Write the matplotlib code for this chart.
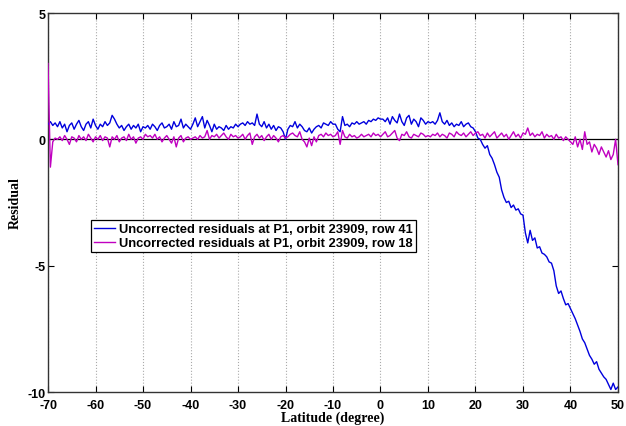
import numpy as np
import matplotlib
matplotlib.use("Agg")
import matplotlib.pyplot as plt

plt.rcParams["axes.unicode_minus"] = False

# Latitude grid (degree), 0.5 deg steps from -70 to 50
lat = np.arange(-70.0, 50.001, 0.5)

# Uncorrected residuals at P1, orbit 23909, row 41 (blue)
row41 = [
    # -70 .. -60
    0.6, 0.7, 0.55, 0.65, 0.5, 0.7, 0.45, 0.6, 0.3, 0.55, 0.65, 0.4, 0.6, 0.75, 0.5, 0.35, 0.6, 0.7, 0.45, 0.8, 0.55,
    # -59.5 .. -50
    0.4, 0.6, 0.5, 0.7, 0.55, 0.65, 0.95, 0.8, 0.6, 0.45, 0.55, 0.35, 0.5, 0.6, 0.4, 0.55, 0.45, 0.6, 0.3, 0.5,
    # -49.5 .. -40
    0.45, 0.55, 0.4, 0.6, 0.5, 0.35, 0.55, 0.65, 0.45, 0.5, 0.6, 0.4, 0.7, 0.5, 0.55, 0.8, 0.45, 0.6, 0.5, 0.4,
    # -39.5 .. -30
    0.6, 0.85, 0.5, 0.7, 0.9, 0.45, 0.75, 0.55, 0.3, 0.6, 0.4, 0.5, 0.45, 0.35, 0.55, 0.4, 0.5, 0.45, 0.6, 0.5,
    # -29.5 .. -20
    0.6, 0.65, 0.55, 0.7, 0.6, 0.65, 0.55, 1.0, 0.6, 0.5, 0.7, 0.45, 0.6, 0.4, 0.55, 0.35, 0.5, 0.45, 0.3, 0.0,
    # -19.5 .. -10
    0.4, 0.55, 0.5, 0.7, 0.45, 0.6, 0.5, 0.35, 0.3, 0.45, 0.25, 0.4, 0.5, 0.55, 0.45, 0.65, 0.6, 0.55, 0.7, 0.6,
    # -9.5 .. 0
    0.6, 0.4, 0.3, 0.9, 0.55, 0.6, 0.5, 0.65, 0.6, 0.7, 0.6, 0.65, 0.7, 0.6, 0.75, 0.7, 0.8, 0.75, 0.85, 0.8,
    # 0.5 .. 10
    0.8, 0.7, 0.85, 0.6, 0.9, 0.75, 0.65, 1.0, 0.7, 0.55, 0.85, 0.95, 0.6, 0.8, 0.7, 0.5, 0.85, 0.75, 0.6, 0.7,
    # 10.5 .. 20
    0.65, 0.7, 0.6, 0.75, 1.05, 0.7, 0.6, 0.75, 0.55, 0.65, 0.5, 0.6, 0.55, 0.7, 0.5, 0.6, 0.65, 0.5, 0.45, 0.3,
    # 20.5 .. 30
    0.05, 0.0, -0.2, -0.35, -0.25, -0.6, -0.75, -1.0, -1.3, -1.5, -2.0, -2.3, -2.5, -2.45, -2.7, -2.6, -2.8, -2.75, -2.95, -3.0,
    # 30.5 .. 40
    -3.7, -4.1, -3.6, -4.0, -3.9, -4.3, -4.25, -4.5, -4.55, -4.65, -4.85, -4.9, -5.2, -5.8, -6.1, -6.0, -6.3, -6.55, -6.5, -6.7,
    # 40.5 .. 50
    -6.9, -7.1, -7.35, -7.6, -7.9, -8.05, -8.3, -8.55, -8.7, -8.9, -8.8, -9.1, -9.25, -9.4, -9.5, -9.7, -9.9, -9.65, -9.9, -9.8,
]

# Uncorrected residuals at P1, orbit 23909, row 18 (magenta)
row18 = [
    # -70 .. -60
    3.0, -1.1, -0.1, 0.05, 0.0, 0.1, -0.05, 0.15, 0.0, -0.2, 0.1, 0.05, -0.1, 0.15, 0.0, 0.1, -0.05, 0.2, 0.05, -0.1, 0.1,
    # -59.5 .. -50
    0.0, 0.15, -0.05, 0.1, 0.05, -0.3, 0.1, 0.0, 0.15, -0.1, 0.05, 0.1, -0.05, 0.2, 0.0, 0.1, -0.15, 0.05, 0.1, 0.0,
    # -49.5 .. -40
    0.2, 0.1, 0.15, 0.05, 0.2, 0.0, 0.1, -0.1, 0.05, 0.15, 0.0, -0.15, 0.1, -0.3, 0.05, 0.15, -0.1, 0.05, 0.1, 0.0,
    # -39.5 .. -30
    0.05, 0.1, 0.0, 0.15, 0.05, 0.1, 0.35, 0.0, 0.15, 0.1, 0.2, 0.05, 0.15, 0.25, 0.1, 0.0, 0.2, 0.1, 0.15, 0.05,
    # -29.5 .. -20
    0.1, 0.2, 0.0, 0.15, 0.25, -0.2, 0.1, 0.2, 0.05, 0.15, -0.05, 0.1, 0.2, 0.0, 0.15, 0.05, -0.1, 0.1, 0.15, 0.05,
    # -19.5 .. -10
    0.1, 0.2, 0.25, 0.15, 0.1, 0.3, 0.0, -0.1, -0.3, 0.05, -0.25, 0.1, -0.1, 0.15, 0.2, 0.1, 0.25, 0.15, 0.2, 0.1,
    # -9.5 .. 0
    0.15, 0.3, -0.2, 0.35, 0.1, 0.05, 0.2, 0.1, 0.15, 0.05, 0.1, 0.2, 0.1, 0.15, 0.2, 0.1, 0.25, 0.15, 0.2, 0.1,
    # 0.5 .. 10
    0.2, 0.3, 0.1, 0.15, 0.25, 0.35, 0.05, -0.05, 0.2, 0.15, 0.3, 0.1, 0.05, 0.2, 0.15, 0.1, 0.25, 0.2, 0.1, 0.15,
    # 10.5 .. 20
    0.1, 0.2, 0.15, 0.25, 0.1, 0.2, 0.15, 0.05, 0.25, 0.2, 0.1, 0.3, 0.2, 0.15, 0.25, 0.1, 0.2, 0.3, 0.15, 0.25,
    # 20.5 .. 30
    0.3, 0.15, 0.2, 0.05, 0.25, 0.1, 0.2, 0.3, 0.05, 0.15, 0.25, 0.1, 0.2, 0.0, 0.15, 0.3, 0.1, 0.2, 0.05, 0.25,
    # 30.5 .. 40
    0.2, 0.45, 0.15, 0.25, 0.1, 0.2, 0.15, 0.3, 0.05, 0.2, 0.1, 0.15, 0.0, 0.2, 0.05, 0.1, -0.05, 0.1, 0.0, -0.1,
    # 40.5 .. 50
    -0.2, 0.1, -0.3, 0.0, -0.4, 0.3, -0.2, -0.1, -0.5, -0.2, -0.35, -0.6, -0.3, -0.5, -0.7, -0.45, -0.8, -0.6, 0.0, -1.0,
]

labels = ["Uncorrected residuals at P1, orbit 23909, row 41",
          "Uncorrected residuals at P1, orbit 23909, row 18"]
xticks = list(range(-70, 51, 10))
yticks = [-10, -5, 0, 5]

fig = plt.figure(figsize=(6.26, 4.27), dpi=100)
ax = fig.add_axes([0.0767, 0.0796, 0.9105, 0.8876])

ax.plot(lat, row41, color="#0000dd", lw=1.0, label=labels[0], zorder=3)
ax.plot(lat, row18, color="#c000c0", lw=1.0, label=labels[1], zorder=4)
ax.axhline(0, color="black", lw=0.9, zorder=2)

ax.set_xlim(-70, 50)
ax.set_ylim(-10, 5)
ax.set_xticks(xticks)
ax.set_yticks(yticks)
ax.xaxis.grid(True, linestyle=":", color="#aaaaaa", lw=0.8)
ax.tick_params(direction="in", top=True, right=True, length=4, width=0.8)
ax.tick_params(axis="x", pad=5)
ax.tick_params(axis="y", pad=2)
for lab in ax.get_xticklabels() + ax.get_yticklabels():
    lab.set_fontfamily("Liberation Sans")
    lab.set_fontweight("bold")
    lab.set_fontsize(9)
for sp in ax.spines.values():
    sp.set_color("#333333")
    sp.set_linewidth(1.0)

ax.set_xlabel("Latitude (degree)", fontfamily="Liberation Serif", fontweight="bold", fontsize=10, labelpad=0)
ax.set_ylabel("Residual", fontfamily="Liberation Serif", fontweight="bold", fontsize=10, labelpad=4)

leg = ax.legend(loc="upper left", bbox_to_anchor=(0.145, 0.4824), bbox_transform=fig.transFigure,
                prop={"family": "Liberation Sans", "weight": "bold", "size": 9.3},
                frameon=True, fancybox=False, edgecolor="black", framealpha=1,
                handlelength=1.6, handletextpad=0.3, borderpad=0.25, labelspacing=0.15,
                borderaxespad=0)
leg.get_frame().set_linewidth(0.9)

fig.savefig("out.png", dpi=100)
